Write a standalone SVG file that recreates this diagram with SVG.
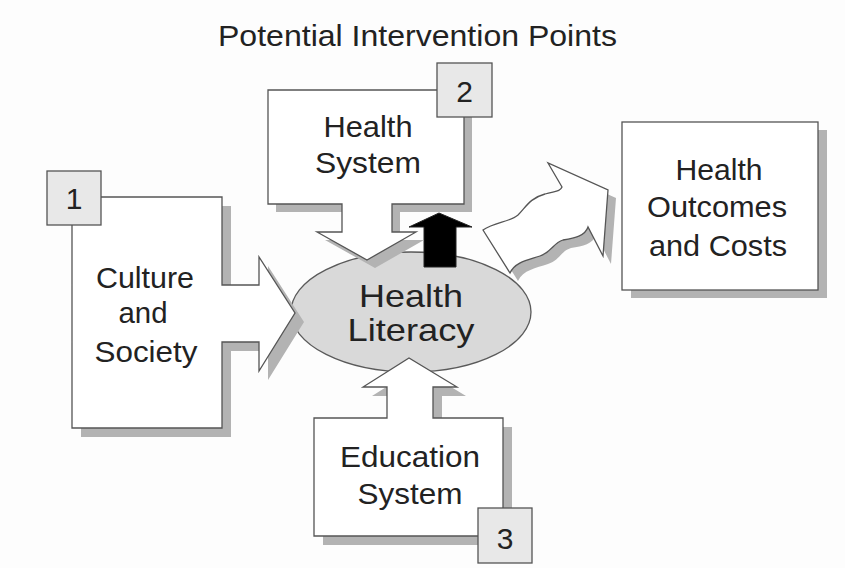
<svg xmlns="http://www.w3.org/2000/svg" width="845" height="568" viewBox="0 0 845 568">
<style>
.bg{fill:#fdfdfd}
.shadow{fill:#b3b3b3;stroke:none}
.shape{fill:#ffffff;stroke:#555555;stroke-width:1.3;stroke-linejoin:miter}
.tag{fill:#e8e8e8;stroke:#555555;stroke-width:1.3}
.ell{fill:#d9d9d9;stroke:#5a5a5a;stroke-width:1.3}
.t{font-family:"Liberation Sans",Arial,sans-serif;fill:#222222;text-anchor:middle}
.f30{font-size:30px}
.f32{font-size:32px}
</style>
<rect class="bg" x="0" y="0" width="845" height="568"/>
<text class="t f30" x="417.5" y="46" textLength="399" lengthAdjust="spacingAndGlyphs">Potential Intervention Points</text>

<g id="health-literacy">
<ellipse class="ell" cx="411" cy="312" rx="120" ry="60"/>
</g>

<g id="connectors">
<path class="shadow" d="M491,238 C503,230 518,230 526,223 C534,215 538,206 553,202 C563,199 568,200 570,195 L556,171 L616,198 L611,264 L596,235 C593,244 583,246 571,248 C561,251 560,260 548,264 C536,268 523,270 518,281 Z"/>
<path class="shape" d="M483,230 C495,222 510,222 518,215 C526,207 530,198 545,194 C555,191 560,192 562,187 L548,163 L608,190 L603,256 L588,227 C585,236 575,238 563,240 C553,243 552,252 540,256 C528,260 515,262 510,273 Z"/>
<path fill="#000000" stroke="#222" stroke-width="1" d="M424,267 L424,227 L409,227 L439,213 L472,227 L456,227 L456,267 Z"/>
</g>

<g id="culture-society">
<path class="shadow" d="M81,206 L231,206 L231,294 L268,294 L268,266 L304,322 L268,380 L268,351 L231,351 L231,437 L81,437 Z"/>
<path class="shape" d="M72,197 L222,197 L222,285 L259,285 L259,257 L295,313 L259,371 L259,342 L222,342 L222,428 L72,428 Z"/>
<rect class="tag" x="47" y="171" width="54" height="54"/>
<text class="t f30" x="74" y="209">1</text>
<text class="t f30" x="145" y="288" textLength="98" lengthAdjust="spacingAndGlyphs">Culture</text>
<text class="t f30" x="143" y="323" textLength="49" lengthAdjust="spacingAndGlyphs">and</text>
<text class="t f30" x="146" y="362" textLength="103" lengthAdjust="spacingAndGlyphs">Society</text>
</g>

<g id="health-system">
<path class="shadow" d="M276,98 L472,98 L472,212 L400,212 L400,240 L424,240 L375,268 L325,240 L350,240 L350,212 L276,212 Z"/>
<path class="shape" d="M268,90 L464,90 L464,204 L392,204 L392,232 L416,232 L367,260 L317,232 L342,232 L342,204 L268,204 Z"/>
<rect class="tag" x="437" y="63" width="55" height="54"/>
<text class="t f30" x="464.5" y="102">2</text>
<text class="t f30" x="368" y="137" textLength="89" lengthAdjust="spacingAndGlyphs">Health</text>
<text class="t f30" x="368" y="173" textLength="106" lengthAdjust="spacingAndGlyphs">System</text>
</g>

<g id="education-system">
<path class="shadow" d="M323,427 L396,427 L396,396 L372,396 L418,367 L466,396 L442,396 L442,427 L512,427 L512,545 L323,545 Z"/>
<path class="shape" d="M314,418 L387,418 L387,387 L363,387 L409,358 L457,387 L433,387 L433,418 L503,418 L503,536 L314,536 Z"/>
<rect class="tag" x="478" y="508" width="54" height="55"/>
<text class="t f30" x="505" y="549">3</text>
<text class="t f30" x="410" y="467" textLength="140" lengthAdjust="spacingAndGlyphs">Education</text>
<text class="t f30" x="410" y="504" textLength="105" lengthAdjust="spacingAndGlyphs">System</text>
</g>

<g id="literacy-label">
<text class="t f32" x="411" y="307" textLength="104" lengthAdjust="spacingAndGlyphs">Health</text>
<text class="t f32" x="411" y="341" textLength="127" lengthAdjust="spacingAndGlyphs">Literacy</text>
</g>

<g id="health-outcomes">
<rect class="shadow" x="631" y="130" width="196" height="168"/>
<rect class="shape" x="622" y="122" width="196" height="168"/>
<text class="t f30" x="719" y="180" textLength="87" lengthAdjust="spacingAndGlyphs">Health</text>
<text class="t f30" x="717" y="217" textLength="140" lengthAdjust="spacingAndGlyphs">Outcomes</text>
<text class="t f30" x="718" y="256" textLength="138" lengthAdjust="spacingAndGlyphs">and Costs</text>
</g>
</svg>
